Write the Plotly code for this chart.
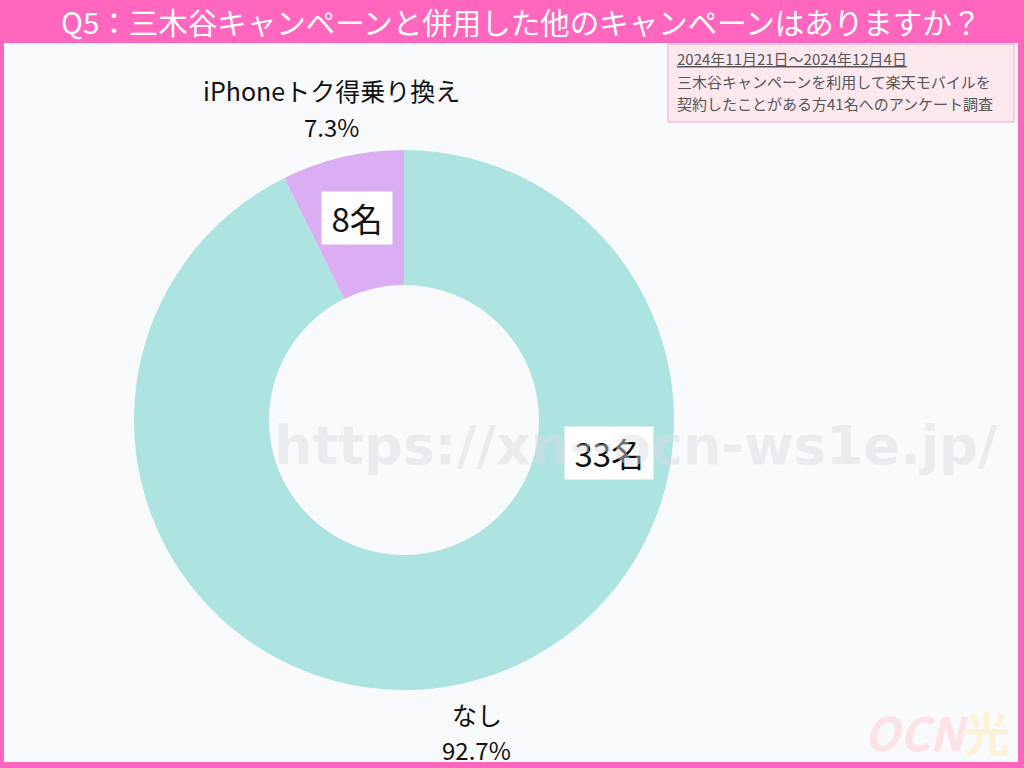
import math
import plotly.graph_objects as go

# ---- data ----
categories = ["なし", "iPhoneトク得乗り換え"]
percents = [92.7, 7.3]
counts_text = ["33名", "8名"]
colors = ["#ade3e1", "#dbaef3"]
title_text = "Q5：三木谷キャンペーンと併用した他のキャンペーンはありますか？"
note_lines = ["<u>2024年11月21日～2024年12月4日</u>",
              "三木谷キャンペーンを利用して楽天モバイルを",
              "契約したことがある方41名へのアンケート調査"]

W, H = 1024, 768
PINK = "#ff66be"
FONT = "Noto Sans CJK JP"

# donut geometry (pixels)
cx, cy, R = 404, 420, 270
dom_x = [(cx - R) / W, (cx + R) / W]
dom_y = [1 - (cy + R) / H, 1 - (cy - R) / H]

fig = go.Figure()
fig.add_trace(go.Pie(
    labels=categories, values=percents, hole=0.5,
    sort=False, direction="clockwise", rotation=0,
    marker=dict(colors=colors, line=dict(width=0)),
    textinfo="none", hoverinfo="label+percent",
    domain=dict(x=dom_x, y=dom_y), showlegend=False,
))

def to_paper(theta_deg, rfac):
    t = math.radians(theta_deg)
    px = cx + rfac * R * math.sin(t)
    py = cy - rfac * R * math.cos(t)
    return px / W, 1 - py / H

def px2paper(px, py):
    return px / W, 1 - py / H

total = sum(percents)
cum = 0
mids = []
for v in percents:
    mids.append((cum + v / 2) / total * 360)
    cum += v

annotations = []
# outside labels (name + percent)
for name, p, m in zip(categories, percents, mids):
    x, y = to_paper(m, 1.185)
    annotations.append(dict(x=x, y=y, xref="paper", yref="paper", text=name,
                            showarrow=False, yshift=18, xanchor="center", yanchor="middle",
                            font=dict(family=FONT, size=25, color="#111")))
    annotations.append(dict(x=x, y=y, xref="paper", yref="paper", text=f"{p}%",
                            showarrow=False, yshift=-18, xanchor="center", yanchor="middle",
                            font=dict(family=FONT, size=24, color="#111")))

# inside count labels
inner_angles = [99, mids[1]]
for t, a in zip(counts_text, inner_angles):
    x, y = to_paper(a, 0.77)
    annotations.append(dict(x=x, y=y, xref="paper", yref="paper",
                            text="\u00a0" + t + "\u00a0",
                            showarrow=False, bgcolor="white", borderpad=2,
                            xanchor="center", yanchor="middle",
                            font=dict(family=FONT, size=33, color="#111")))

# title
tx, ty = px2paper(521, 21)
annotations.append(dict(x=tx, y=ty, xref="paper", yref="paper",
                        xanchor="center", yanchor="middle",
                        text=title_text, showarrow=False,
                        font=dict(family=FONT, size=29.5, color="white")))

# note box lines
for i, line in enumerate(note_lines):
    nx, ny = px2paper(675, 59 + 22 * i)
    annotations.append(dict(x=nx, y=ny, xref="paper", yref="paper",
                            xanchor="left", yanchor="middle", align="left",
                            text=line, showarrow=False,
                            font=dict(family=FONT, size=15, color="#555")))

# watermark
wx, wy = px2paper(636, 445)
annotations.append(dict(x=wx, y=wy, xref="paper", yref="paper",
                        xanchor="center", yanchor="middle",
                        text="<b>https://xn--ocn-ws1e.jp/</b>", showarrow=False,
                        opacity=0.45,
                        font=dict(family="DejaVu Sans", size=54, color="#dcdde2")))
ox, oy = px2paper(1012, 766)
annotations.append(dict(x=ox, y=oy, xref="paper", yref="paper",
                        xanchor="right", yanchor="bottom",
                        text="<b><i>OCN</i></b><b><span style='color:#fcf3d6'>光</span></b>",
                        showarrow=False,
                        font=dict(family=FONT, size=46, color="#fde3e6")))

bx0, by0 = px2paper(668, 44)
bx1, by1 = px2paper(1014, 122)
shapes = [
    dict(type="rect", xref="paper", yref="paper", x0=4 / W, x1=1018 / W,
         y0=6 / H, y1=1 - 43 / H, fillcolor="#f9fafc", line=dict(width=0),
         layer="below"),
    dict(type="rect", xref="paper", yref="paper", x0=bx0, x1=bx1,
         y0=by1, y1=by0, fillcolor="#fde8ee", line=dict(width=1, color="#f7a8cc"),
         layer="below"),
]

fig.update_layout(
    width=W, height=H, margin=dict(l=0, r=0, t=0, b=0),
    paper_bgcolor=PINK, plot_bgcolor=PINK,
    annotations=annotations, shapes=shapes,
    font=dict(family=FONT),
)
fig.write_html("out.html", config={"displayModeBar": False},
               post_script="document.body.style.margin='0';document.body.style.overflow='hidden';")
